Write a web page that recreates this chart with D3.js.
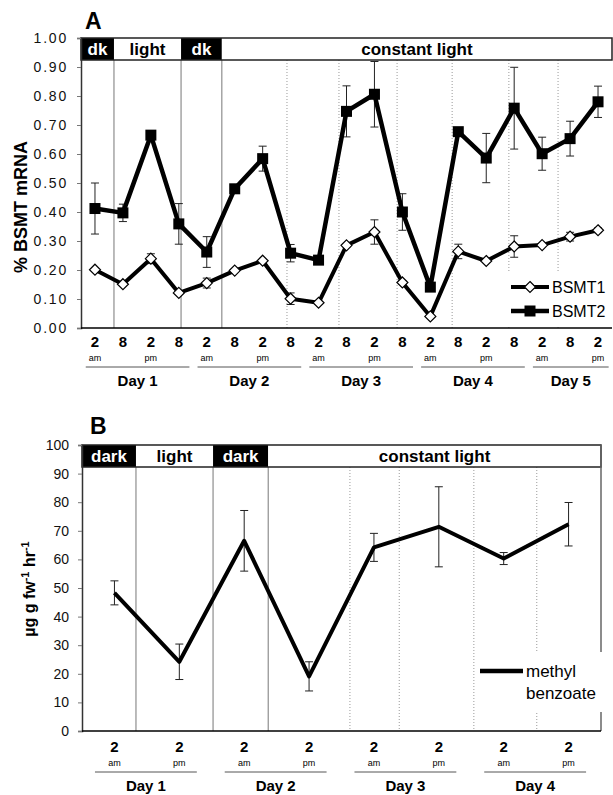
<!DOCTYPE html>
<html>
<head>
<meta charset="utf-8">
<script src="https://cdn.jsdelivr.net/npm/d3@7/dist/d3.min.js"></script>
<style>
  body { margin: 0; background: #fff; }
  svg { font-family: "Liberation Sans", Arial, sans-serif; }
</style>
</head>
<body>
<svg id="chart" width="613" height="795"></svg>
<script>
// ---- panel A : % BSMT mRNA, sampled every 6 h ----
var hoursA = ["2","8","2","8","2","8","2","8","2","8","2","8","2","8","2","8","2","8","2"];
var ampmA = ["am","","pm","","am","","pm","","am","","pm","","am","","pm","","am","","pm"];
var bsmt1 = [0.201,0.151,0.239,0.121,0.155,0.198,0.232,0.101,0.087,0.285,0.331,0.157,0.040,0.264,0.231,0.281,0.286,0.315,0.337];
var bsmt1Err = [0.004,0.004,0.017,0.005,0.017,0.004,0.004,0.020,0.004,0.005,0.042,0.006,0.004,0.025,0.004,0.037,0.005,0.015,0.008];
var bsmt2 = [0.412,0.397,0.665,0.359,0.262,0.480,0.584,0.258,0.234,0.747,0.806,0.400,0.141,0.677,0.586,0.758,0.601,0.653,0.780];
var bsmt2Err = [0.088,0.030,0.008,0.070,0.053,0.008,0.043,0.030,0.008,0.088,0.113,0.063,0.008,0.008,0.085,0.141,0.057,0.060,0.054];
var daysA = ["Day 1","Day 2","Day 3","Day 4","Day 5"];
var dayFirstA = [0,4,8,12,16];
var dayLastA = [3,7,11,15,18];
var phasesA = ["dk","light","dk","constant light"];
var phaseEdgesA = [-0.5,0.68,3.08,4.54,18.5];   // in sample units
var dottedA = [6.87,8.73,10.81,12.78,14.81,16.57];
var yTicksA = [0,0.1,0.2,0.3,0.4,0.5,0.6,0.7,0.8,0.9,1.0];

// ---- panel B : methyl benzoate emission ----
var hoursB = ["2","2","2","2","2","2","2","2"];
var ampmB = ["am","pm","am","pm","am","pm","am","pm"];
var methylBenzoate = [48.3,24.2,66.5,19.1,64.2,71.4,60.3,72.3];
var methylBenzoateErr = [4.2,6.2,10.6,5.1,4.9,14.0,2.1,7.6];
var daysB = ["Day 1","Day 2","Day 3","Day 4"];
var dayFirstB = [0,2,4,6];
var dayLastB = [1,3,5,7];
var phasesB = ["dark","light","dark","constant light"];
var phaseEdgesB = [-0.5,0.332,1.52,2.37,7.5];
var dottedB = [3.63,4.39,5.54,6.51];
var yTicksB = [0,10,20,30,40,50,60,70,80,90,100];

var svg = d3.select("#chart");

function drawPanel(p) {
  var g = svg.append("g");
  var n = p.hours.length;
  var x = d3.scaleLinear().domain([-0.5, n - 0.5]).range([p.left, p.right]);
  var y = d3.scaleLinear().domain([0, p.yMax]).range([p.bottom, p.top]);

  // phase separators
  g.selectAll(".sep")
    .data(p.phaseEdges.slice(1, -1))
    .enter().append("line")
    .attr("x1", d => x(d)).attr("x2", d => x(d))
    .attr("y1", p.bandBottom).attr("y2", p.bottom)
    .attr("stroke", "#777").attr("stroke-width", 1);

  g.selectAll(".dot")
    .data(p.dotted)
    .enter().append("line")
    .attr("x1", d => x(d)).attr("x2", d => x(d))
    .attr("y1", p.bandBottom).attr("y2", p.bottom)
    .attr("stroke", "#999").attr("stroke-width", 1)
    .attr("stroke-dasharray", "1,2");

  // light / dark band
  var segs = p.phases.map(function(d, i) {
    return { label: d, x0: p.phaseEdges[i], x1: p.phaseEdges[i + 1], dark: d == "dk" || d == "dark" };
  });
  g.selectAll(".seg")
    .data(segs)
    .enter().append("rect")
    .attr("x", d => x(d.x0)).attr("width", d => x(d.x1) - x(d.x0))
    .attr("y", p.top).attr("height", p.bandBottom - p.top)
    .attr("fill", d => d.dark ? "#000" : "#fff");
  g.selectAll(".segt")
    .data(segs)
    .enter().append("text")
    .attr("x", d => (x(d.x0) + x(d.x1)) / 2)
    .attr("y", p.bandBottom - 5)
    .attr("text-anchor", "middle")
    .attr("font-size", 17).attr("font-weight", "bold")
    .attr("fill", d => d.dark ? "#fff" : "#000")
    .text(d => d.label);
  g.append("rect")
    .attr("x", p.left).attr("y", p.top)
    .attr("width", p.right - p.left).attr("height", p.bandBottom - p.top)
    .attr("fill", "none").attr("stroke", "#222").attr("stroke-width", 1.5);

  if (p.rightBorder) {
    g.append("line")
      .attr("x1", p.right).attr("x2", p.right)
      .attr("y1", p.top).attr("y2", p.bottom)
      .attr("stroke", "#666").attr("stroke-width", 1.5);
  }

  // y axis
  var yAxis = g.append("g")
    .attr("transform", "translate(" + p.left + ",0)")
    .call(d3.axisLeft(y).tickValues(p.yTicks).tickFormat(p.tickFormat).tickSize(4).tickPadding(9));
  yAxis.select(".domain").attr("stroke", "#333").attr("stroke-width", 1.5);
  yAxis.selectAll(".tick line").attr("stroke", "#777");
  yAxis.selectAll(".tick text")
    .attr("font-size", 14).attr("fill", "#111")
    .attr("font-family", "Liberation Sans, Arial, sans-serif")
    .style("letter-spacing", p.tickSpacing + "px");

  g.append("text")
    .attr("transform", "translate(" + p.titleX + "," + p.titleY + ") rotate(-90)")
    .attr("text-anchor", "middle")
    .attr("font-size", p.titleSize).attr("font-weight", "bold")
    .call(p.title);

  // x axis baseline
  g.append("line")
    .attr("x1", p.left).attr("x2", p.right)
    .attr("y1", p.bottom).attr("y2", p.bottom)
    .attr("stroke", "#000").attr("stroke-width", 1.5);

  g.selectAll(".hr")
    .data(p.hours)
    .enter().append("text")
    .attr("x", (d, i) => x(i)).attr("y", p.hourY)
    .attr("text-anchor", "middle")
    .attr("font-size", 15).attr("font-weight", "bold")
    .text(d => d);
  g.selectAll(".ap")
    .data(p.ampm)
    .enter().append("text")
    .attr("x", (d, i) => x(i)).attr("y", p.hourY + 14)
    .attr("text-anchor", "middle")
    .attr("font-size", 9)
    .text(d => d);

  g.selectAll(".dayline")
    .data(p.days)
    .enter().append("line")
    .attr("x1", (d, i) => x(p.dayFirst[i] - p.dayPad[0]))
    .attr("x2", (d, i) => x(p.dayLast[i] + p.dayPad[1]))
    .attr("y1", p.hourY + 20).attr("y2", p.hourY + 20)
    .attr("stroke", "#555").attr("stroke-width", 1);
  g.selectAll(".day")
    .data(p.days)
    .enter().append("text")
    .attr("x", (d, i) => (x(p.dayFirst[i] - p.dayPad[0]) + x(p.dayLast[i] + p.dayPad[1])) / 2)
    .attr("y", p.hourY + 39)
    .attr("text-anchor", "middle")
    .attr("font-size", 15).attr("font-weight", "bold")
    .text(d => d);

  g.append("text")
    .attr("x", p.letterX).attr("y", p.letterY)
    .attr("font-size", 23).attr("font-weight", "bold")
    .text(p.letter);

  return { g: g, x: x, y: y };
}

function errorBars(g, x, y, vals, errs) {
  var eb = g.append("g").attr("stroke", "#222").attr("stroke-width", 1);
  vals.forEach(function(v, i) {
    eb.append("line").attr("x1", x(i)).attr("x2", x(i)).attr("y1", y(v - errs[i])).attr("y2", y(v + errs[i]));
    eb.append("line").attr("x1", x(i) - 4).attr("x2", x(i) + 4).attr("y1", y(v + errs[i])).attr("y2", y(v + errs[i]));
    eb.append("line").attr("x1", x(i) - 4).attr("x2", x(i) + 4).attr("y1", y(v - errs[i])).attr("y2", y(v - errs[i]));
  });
}

// ---------- A ----------
var A = drawPanel({
  hours: hoursA, ampm: ampmA, days: daysA, dayFirst: dayFirstA, dayLast: dayLastA,
  dayPad: [0.33, 0.38],
  phases: phasesA, phaseEdges: phaseEdgesA, dotted: dottedA,
  yTicks: yTicksA, yMax: 1, tickFormat: d3.format(".2f"), tickSpacing: 1.8,
  left: 81, right: 612, top: 38, bottom: 328, bandBottom: 60, rightBorder: false,
  hourY: 347, letter: "A", letterX: 85, letterY: 29,
  titleX: 27, titleY: 207, titleSize: 18,
  title: function(t) { t.text("% BSMT mRNA"); }
});

// legend box first so it hides the dotted lines behind it
var legA = A.g.append("g");
legA.append("rect").attr("x", 505).attr("y", 271).attr("width", 106).attr("height", 55).attr("fill", "#fff");

errorBars(A.g, A.x, A.y, bsmt1, bsmt1Err);
errorBars(A.g, A.x, A.y, bsmt2, bsmt2Err);

var lineA = d3.line().x((d, i) => A.x(i)).y(d => A.y(d));
A.g.append("path").datum(bsmt1).attr("d", lineA)
  .attr("fill", "none").attr("stroke", "#000").attr("stroke-width", 4).attr("stroke-linejoin", "round");
A.g.append("path").datum(bsmt2).attr("d", lineA)
  .attr("fill", "none").attr("stroke", "#000").attr("stroke-width", 4.5).attr("stroke-linejoin", "round");

var diamond = "M0,-5.5L5.5,0L0,5.5L-5.5,0Z";
A.g.selectAll(".m1").data(bsmt1).enter().append("path")
  .attr("d", diamond)
  .attr("transform", (d, i) => "translate(" + A.x(i) + "," + A.y(d) + ")")
  .attr("fill", "#fff").attr("stroke", "#000").attr("stroke-width", 1.2);
A.g.selectAll(".m2").data(bsmt2).enter().append("rect")
  .attr("x", (d, i) => A.x(i) - 5.5).attr("y", d => A.y(d) - 5.5)
  .attr("width", 11).attr("height", 11).attr("fill", "#000");

var legItems = ["BSMT1", "BSMT2"];
legItems.forEach(function(name, i) {
  var ly = 287 + i * 24;
  legA.append("line").attr("x1", 511).attr("x2", 549).attr("y1", ly).attr("y2", ly)
    .attr("stroke", "#000").attr("stroke-width", i ? 4.5 : 4);
  if (i == 0) {
    legA.append("path").attr("d", diamond).attr("transform", "translate(530," + ly + ")")
      .attr("fill", "#fff").attr("stroke", "#000").attr("stroke-width", 1.2);
  } else {
    legA.append("rect").attr("x", 524.5).attr("y", ly - 5.5).attr("width", 11).attr("height", 11).attr("fill", "#000");
  }
  legA.append("text").attr("x", 552).attr("y", ly + 6).attr("font-size", 16).text(name);
});
legA.raise();

// ---------- B ----------
var B = drawPanel({
  hours: hoursB, ampm: ampmB, days: daysB, dayFirst: dayFirstB, dayLast: dayLastB,
  dayPad: [0.3, 0.27],
  phases: phasesB, phaseEdges: phaseEdgesB, dotted: dottedB,
  yTicks: yTicksB, yMax: 100, tickFormat: d3.format("d"), tickSpacing: 0,
  left: 82, right: 601, top: 445, bottom: 731, bandBottom: 467, rightBorder: true,
  hourY: 752, letter: "B", letterX: 90, letterY: 434,
  titleX: 35, titleY: 589, titleSize: 16,
  title: function(t) {
    t.append("tspan").text("µg g fw");
    t.append("tspan").attr("dy", -6).attr("font-size", 11).text("-1");
    t.append("tspan").attr("dy", 6).text(" hr");
    t.append("tspan").attr("dy", -6).attr("font-size", 11).text("-1");
  }
});

var legB = B.g.append("g");
legB.append("rect").attr("x", 478).attr("y", 652).attr("width", 125).attr("height", 60).attr("fill", "#fff");

errorBars(B.g, B.x, B.y, methylBenzoate, methylBenzoateErr);
B.g.append("path").datum(methylBenzoate)
  .attr("d", d3.line().x((d, i) => B.x(i)).y(d => B.y(d)))
  .attr("fill", "none").attr("stroke", "#000").attr("stroke-width", 4).attr("stroke-linejoin", "round");

legB.append("line").attr("x1", 480).attr("x2", 523).attr("y1", 671).attr("y2", 671)
  .attr("stroke", "#000").attr("stroke-width", 4.5);
legB.append("text").attr("x", 526).attr("y", 677).attr("font-size", 17).text("methyl");
legB.append("text").attr("x", 526).attr("y", 699).attr("font-size", 17).text("benzoate");
legB.raise();
</script>
</body>
</html>
